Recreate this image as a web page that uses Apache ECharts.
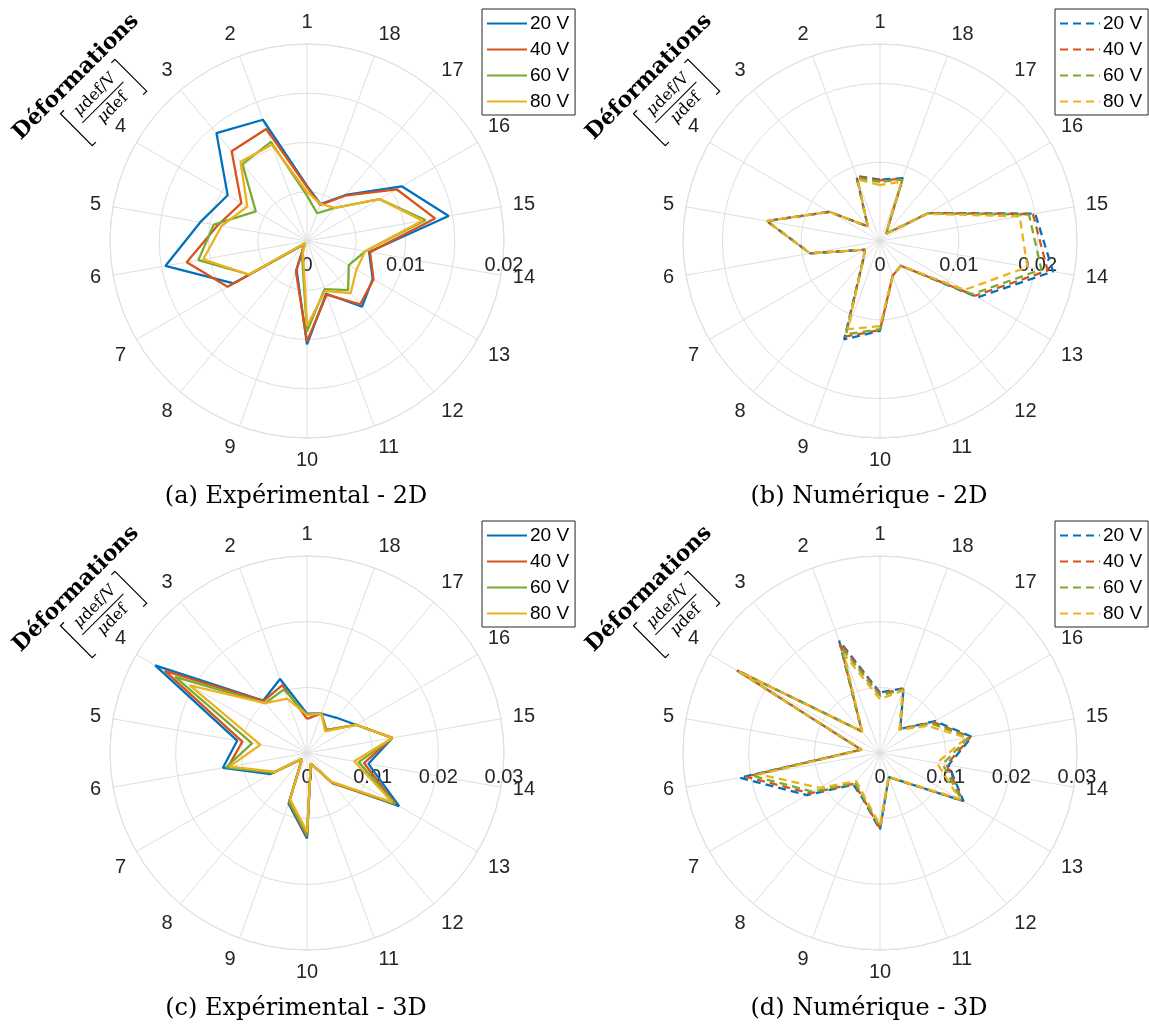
<!DOCTYPE html>
<html>
<head>
<meta charset="utf-8">
<script src="https://cdn.jsdelivr.net/npm/echarts@6/dist/echarts.min.js"></script>
<style>
html,body{margin:0;padding:0;background:#ffffff;}
#chart{width:1149px;height:1030px;}
</style>
</head>
<body>
<div id="chart"></div>
<script>
// ---------------- DATA ----------------
const sensorLabels = ['1','2','3','4','5','6','7','8','9','10','11','12','13','14','15','16','17','18'];
const voltageLabels = ['20 V','40 V','60 V','80 V'];
const captions = ['(a) Expérimental - 2D','(b) Numérique - 2D','(c) Expérimental - 3D','(d) Numérique - 3D'];
const radialTicksA = [0, 0.01, 0.02];
const radialTicksB = [0, 0.01, 0.02];
const radialTicksC = [0, 0.01, 0.02, 0.03];
const radialTicksD = [0, 0.01, 0.02, 0.03];

// (a) Expérimental - 2D  (sensor 1 .. 18)
const exp2D_20V = [0.0056,0.0131,0.0143,0.0093,0.0110,0.0146,0.0086,0.0004,0.0031,0.0105,0.0057,0.0087,0.0077,0.0064,0.0146,0.0111,0.0061,0.0040];
const exp2D_40V = [0.0055,0.0121,0.0119,0.0077,0.0092,0.0124,0.0093,0.0004,0.0033,0.0102,0.0058,0.0084,0.0078,0.0065,0.0132,0.0105,0.0060,0.0039];
const exp2D_60V = [0.0046,0.0107,0.0102,0.0060,0.0096,0.0112,0.0068,0.0003,0.0015,0.0092,0.0052,0.0065,0.0049,0.0060,0.0122,0.0085,0.0044,0.0030];
const exp2D_80V = [0.0050,0.0104,0.0105,0.0070,0.0088,0.0107,0.0068,0.0003,0.0012,0.0086,0.0054,0.0069,0.0058,0.0060,0.0119,0.0085,0.0044,0.0040];

// (b) Numérique - 2D
const num2D_20V = [0.0078,0.0088,0.0024,0.0074,0.0146,0.0090,0.0022,0.0034,0.0133,0.0114,0.0047,0.0041,0.0143,0.0223,0.0200,0.0071,0.0012,0.0085];
const num2D_40V = [0.0077,0.0087,0.0024,0.0074,0.0146,0.0090,0.0022,0.0034,0.0129,0.0113,0.0047,0.0041,0.0139,0.0216,0.0197,0.0071,0.0012,0.0084];
const num2D_60V = [0.0075,0.0085,0.0024,0.0074,0.0146,0.0090,0.0022,0.0034,0.0126,0.0112,0.0047,0.0041,0.0135,0.0208,0.0192,0.0070,0.0012,0.0083];
const num2D_80V = [0.0071,0.0083,0.0024,0.0074,0.0146,0.0090,0.0022,0.0034,0.0119,0.0108,0.0047,0.0041,0.0124,0.0190,0.0180,0.0069,0.0012,0.0080];

// (c) Expérimental - 3D
const exp3D_20V = [0.0060,0.0120,0.0104,0.0267,0.0108,0.0130,0.0064,0.0012,0.0082,0.0130,0.0017,0.0058,0.0162,0.0095,0.0132,0.0086,0.0070,0.0064];
const exp3D_40V = [0.0052,0.0110,0.0103,0.0250,0.0100,0.0122,0.0060,0.0012,0.0080,0.0127,0.0017,0.0060,0.0156,0.0088,0.0132,0.0086,0.0046,0.0064];
const exp3D_60V = [0.0058,0.0103,0.0099,0.0232,0.0085,0.0125,0.0060,0.0012,0.0079,0.0125,0.0017,0.0058,0.0155,0.0080,0.0132,0.0086,0.0045,0.0064];
const exp3D_80V = [0.0058,0.0088,0.0099,0.0206,0.0072,0.0120,0.0057,0.0012,0.0075,0.0120,0.0017,0.0057,0.0150,0.0073,0.0132,0.0086,0.0043,0.0064];

// (d) Numérique - 3D
const num3D_20V = [0.0092,0.0182,0.0043,0.0252,0.0029,0.0217,0.0128,0.0063,0.0075,0.0117,0.0039,0.0058,0.0147,0.0106,0.0142,0.0097,0.0048,0.0105];
const num3D_40V = [0.0090,0.0178,0.0043,0.0251,0.0029,0.0208,0.0123,0.0061,0.0074,0.0115,0.0039,0.0058,0.0145,0.0103,0.0140,0.0094,0.0048,0.0104];
const num3D_60V = [0.0087,0.0170,0.0043,0.0250,0.0029,0.0198,0.0118,0.0059,0.0073,0.0113,0.0039,0.0058,0.0143,0.0097,0.0137,0.0090,0.0047,0.0103];
const num3D_80V = [0.0082,0.0160,0.0042,0.0248,0.0028,0.0187,0.0106,0.0056,0.0070,0.0110,0.0038,0.0057,0.0140,0.0088,0.0134,0.0083,0.0046,0.0101];

// ---------------- LAYOUT / STYLE ----------------
const colors = ['#0072BD','#D95319','#77AC30','#EDB120'];
const gridColor = '#dfdfdf';
const tickColor = '#262626';
const R = 197;

const panels = [
  {key:'a', values:[exp2D_20V,exp2D_40V,exp2D_60V,exp2D_80V], dashed:false, rMax:0.02,  ringStep:0.005, ticks:radialTicksA, center:[307,241]},
  {key:'b', values:[num2D_20V,num2D_40V,num2D_60V,num2D_80V], dashed:true,  rMax:0.025, ringStep:0.01,  ticks:radialTicksB, center:[880,241]},
  {key:'c', values:[exp3D_20V,exp3D_40V,exp3D_60V,exp3D_80V], dashed:false, rMax:0.03,  ringStep:0.01,  ticks:radialTicksC, center:[307,753]},
  {key:'d', values:[num3D_20V,num3D_40V,num3D_60V,num3D_80V], dashed:true,  rMax:0.03,  ringStep:0.01,  ticks:radialTicksD, center:[880,753]}
];

function sensorAngle(i){ return ((90 + 20*i + 10) % 360) - 10; }
function angleLabel(v){
  const idx = ((Math.round((v - 90)/20) % 18) + 18) % 18;
  return sensorLabels[idx];
}

const polar = [], angleAxis = [], radiusAxis = [], series = [], legend = [], graphic = [];
const serif = 'DejaVu Serif';

panels.forEach((p, pi) => {
  const mainIdx = pi*2, labIdx = pi*2 + 1;
  polar.push({center:p.center, radius:R});
  polar.push({center:p.center, radius:R});
  angleAxis.push({
    polarIndex: mainIdx, type:'value', min:-10, max:350, interval:20, startAngle:-10, clockwise:false,
    axisLine:{show:true, lineStyle:{color:gridColor, width:1}},
    axisTick:{show:false},
    splitLine:{show:true, lineStyle:{color:gridColor, width:1}},
    axisLabel:{show:true, margin:12, fontSize:20, fontFamily:'Liberation Sans', color:tickColor, formatter:angleLabel}
  });
  radiusAxis.push({
    polarIndex: mainIdx, type:'value', min:0, max:p.rMax, interval:p.ringStep,
    axisLine:{show:false}, axisTick:{show:false}, axisLabel:{show:false},
    splitLine:{show:true, lineStyle:{color:gridColor, width:1}}
  });
  angleAxis.push({polarIndex: labIdx, type:'value', min:0, max:360, startAngle:0, show:false});
  const ticks = p.ticks;
  radiusAxis.push({
    polarIndex: labIdx, type:'value', min:0, max:p.rMax, interval:0.01,
    axisLine:{show:false}, axisTick:{show:false}, splitLine:{show:false},
    axisLabel:{show:true, margin:-14, verticalAlign:'top', fontSize:20, fontFamily:'Liberation Sans', color:tickColor,
      formatter:function(v){
        for (const t of ticks){ if (Math.abs(v - t) < 1e-9) return String(t); }
        return '';
      }}
  });
  const names = [];
  p.values.forEach((vals, si) => {
    const name = p.key + '|' + voltageLabels[si];
    names.push(name);
    const data = vals.map((v, i) => [v, sensorAngle(i)]);
    data.push([vals[0], sensorAngle(0)]);
    series.push({
      type:'line', name:name, coordinateSystem:'polar', polarIndex:mainIdx,
      data:data, symbol:'none', showSymbol:false, animation:false, smooth:false,
      itemStyle:{color:colors[si]},
      lineStyle:{color:colors[si], width:2.3, type: p.dashed ? [8,5] : 'solid'},
      emphasis:{disabled:true}
    });
  });
  legend.push({
    data:names, orient:'vertical', left:p.center[0]+175, top:p.center[1]-232,
    itemWidth:40, itemHeight:14, itemGap:7, padding:[5,6,4,4],
    borderColor:'#262626', borderWidth:1, backgroundColor:'#ffffff',
    itemStyle:{opacity:0, borderWidth:0},
    textStyle:{fontSize:19, fontFamily:'Liberation Sans', color:'#000000', padding:[0,0,0,-2]},
    formatter:function(n){ return n.split('|')[1]; },
    selectedMode:false
  });
  // caption
  graphic.push({
    type:'text', x:p.center[0]-11, y:p.center[1]+256,
    style:{text:captions[pi], fontSize:24, fontFamily:serif, fill:'#000000', align:'center', verticalAlign:'middle'}
  });
  // radial axis title (rotated)
  graphic.push({
    type:'group', x:p.center[0]-231, y:p.center[1]-164, rotation:Math.PI/4,
    children:[
      {type:'text', x:0, y:0, style:{text:'Déformations', fontSize:22, fontWeight:'bold', fontFamily:serif, fill:'#000000', align:'center', verticalAlign:'middle'}},
      {type:'text', x:1, y:26, style:{text:'{i|μ}def/V', fontSize:16, fontFamily:serif, fill:'#000000', align:'center', verticalAlign:'middle',
        rich:{i:{fontStyle:'italic', fontSize:16, fontFamily:serif}}}},
      {type:'line', shape:{x1:-28, y1:37, x2:30, y2:37}, style:{stroke:'#000000', lineWidth:1}},
      {type:'text', x:4, y:48, style:{text:'{i|μ}def', fontSize:16, fontFamily:serif, fill:'#000000', align:'center', verticalAlign:'middle',
        rich:{i:{fontStyle:'italic', fontSize:16, fontFamily:serif}}}},
      {type:'polyline', shape:{points:[[-32,15],[-37,15],[-37,60],[-32,60]]}, style:{stroke:'#000000', fill:null, lineWidth:1.2}},
      {type:'polyline', shape:{points:[[35,15],[40,15],[40,60],[35,60]]}, style:{stroke:'#000000', fill:null, lineWidth:1.2}}
    ]
  });
});

const chart = echarts.init(document.getElementById('chart'), null, {renderer:'canvas'});
chart.setOption({
  backgroundColor:'#ffffff',
  animation:false,
  polar:polar, angleAxis:angleAxis, radiusAxis:radiusAxis,
  series:series, legend:legend, graphic:graphic
});
</script>
</body>
</html>
